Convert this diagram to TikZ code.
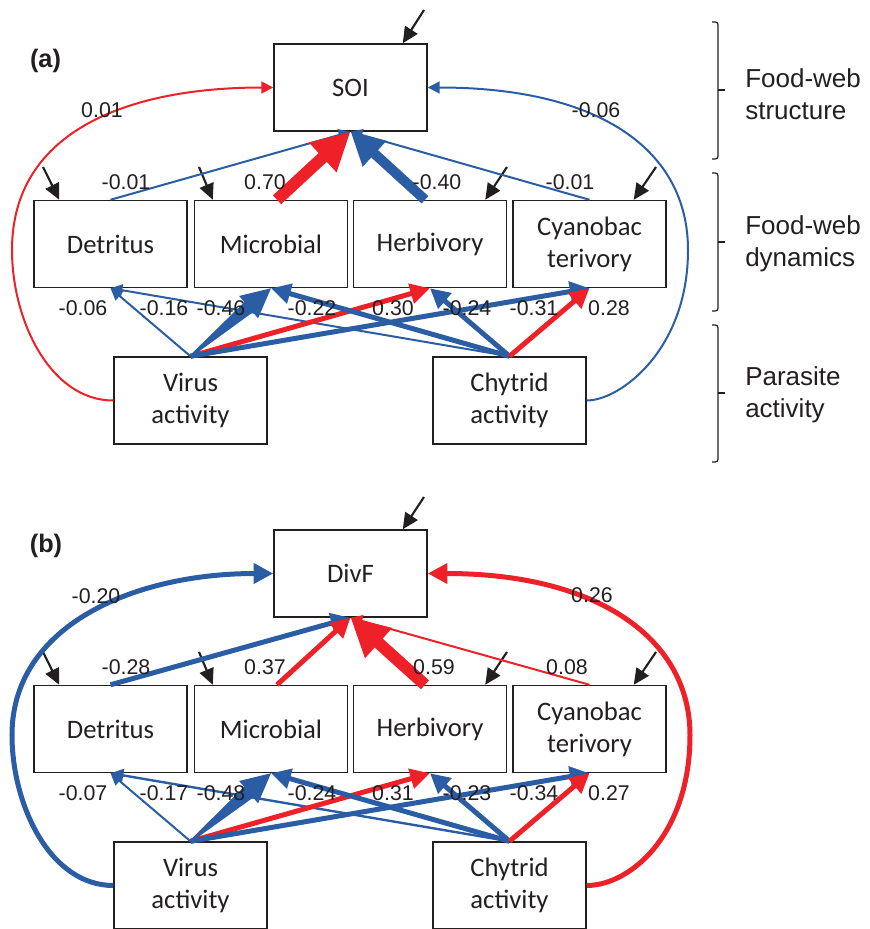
\documentclass[tikz,border=0pt]{standalone}
\usepackage{fontspec}
\setmainfont{Carlito}
\newfontfamily\arial{Liberation Sans}
\usetikzlibrary{arrows.meta,calc}
\definecolor{myred}{RGB}{237,33,39}
\definecolor{myblue}{RGB}{42,93,163}
\definecolor{ink}{RGB}{35,31,32}
\begin{document}
\begin{tikzpicture}[x=0.75pt,y=-0.75pt,
  box/.style={draw=ink, line width=1.1pt, fill=white, minimum width=114.75pt, minimum height=65.25pt,
    inner sep=0pt, font=\fontsize{20}{24}\selectfont, text=ink, align=center},
  coef/.style={font=\arial\fontsize{16}{18}\selectfont, text=ink, inner sep=0pt},
  grp/.style={font=\arial\fontsize{19.5}{24}\selectfont, text=ink, align=left, anchor=west, inner sep=0pt},
  plabel/.style={font=\arial\bfseries\fontsize{19}{22}\selectfont, text=ink, inner sep=0pt},
  lnk/.style={-{Triangle[length=5pt 2.6,width=5pt 2.6]}, line width=#1},
  err/.style={-{Triangle[length=12pt,width=11pt]}, line width=1.6pt, draw=ink},
  brk/.style={draw=ink, line width=0.9pt, rounded corners=2pt}]
\useasboundingbox (0,0) rectangle (869,929);

% ================= panel (a) =================
\node[plabel] (pa) at (45.5,61) {(a)};
\node[box] (soi) at (350.5,87.5) {SOI};
\node[box] (det) at (110.5,244) {Detritus};
\node[box] (mic) at (271,244) {Microbial};
\node[box] (her) at (430,244) {Herbivory};
\node[box] (cya) at (589.5,244) {Cyanobac\\terivory};
\node[box] (vir) at (190.5,400.5) {Virus\\activity};
\node[box] (chy) at (509.5,400.5) {Chytrid\\activity};

% error arrows
\coordinate (ea0) at (424,10);
\coordinate (ea1) at (43,167);
\coordinate (ea2) at (199,167);
\coordinate (ea3) at (507,167);
\coordinate (ea4) at (656,167);
\draw[err] (ea0) -- ($(soi.north east)+(-25,0)$);
\draw[err] (ea1) -- ($(det.north west)+(26,0)$);
\draw[err] (ea2) -- ($(mic.north west)+(19,0)$);
\draw[err] (ea3) -- ($(her.north east)+(-22,0)$);
\draw[err] (ea4) -- ($(cya.north east)+(-33,0)$);

% links to SOI
\draw[lnk=1.5pt, myblue] (det.north) -- (soi.south);
\draw[lnk=1.5pt, myblue] (cya.north) -- (soi.south);
\draw[lnk=7.5pt, myblue] ($(her.north)+(-5,0)$) -- (soi.south);
\draw[lnk=9pt, myred] ($(mic.north)+(6,0)$) -- (soi.south);
\draw[lnk=1.5pt, myred] (vir.west) .. controls (50,400.5) and (12,320) .. (12,250)
   .. controls (12,130) and (130,87.5) .. (soi.west);
\draw[lnk=1.5pt, myblue] (chy.east) .. controls (620,400.5) and (688,350) .. (688,250)
   .. controls (688,150) and (600,87.5) .. (soi.east);

% parasite links
\draw[lnk=1.5pt, myblue] (vir.north) -- (det.south);
\draw[lnk=1.5pt, myblue] (chy.north) -- (det.south);
\draw[lnk=3.75pt, myred] (vir.north) -- (her.south);
\draw[lnk=3.75pt, myblue] (chy.north) -- (mic.south);
\draw[lnk=3.75pt, myblue] (vir.north) -- (cya.south);
\draw[lnk=3.75pt, myblue] (chy.north) -- (her.south);
\draw[lnk=3.75pt, myred] (chy.north) -- (cya.south);
% tapered thick arrow virus -> microbial
\coordinate (hba) at ($(mic.south)!22pt!(vir.north)$);
\fill[myblue] ($(vir.north)!0.8pt!90:(mic.south)$) -- ($(hba)!5pt!90:(mic.south)$)
  -- ($(hba)!11pt!90:(mic.south)$) -- (mic.south) -- ($(hba)!11pt!-90:(mic.south)$)
  -- ($(hba)!5pt!-90:(mic.south)$) -- ($(vir.north)!0.8pt!-90:(mic.south)$) -- cycle;

% coefficients
\node[coef] (ca1) at (102,110) {0.01};
\node[coef] (ca2) at (596,110) {-0.06};
\node[coef] (ca3) at (126,182) {-0.01};
\node[coef] (ca4) at (265,182) {0.70};
\node[coef] (ca5) at (437,182) {-0.40};
\node[coef] (ca6) at (570,182) {-0.01};
\node[coef] (cb1) at (83,308) {-0.06};
\node[coef] (cb2) at (164,308) {-0.16};
\node[coef] (cb3) at (221,308) {-0.46};
\node[coef] (cb4) at (312,308) {-0.22};
\node[coef] (cb5) at (393,308) {0.30};
\node[coef] (cb6) at (467,308) {-0.24};
\node[coef] (cb7) at (534,308) {-0.31};
\node[coef] (cb8) at (609,308) {0.28};

% brackets and group labels
\draw[brk] (712,22) -- (718,22) -- (718,159) -- (712,159);
\draw[brk] (718,90) -- (725,90);
\draw[brk] (712,173) -- (718,173) -- (718,311) -- (712,311);
\draw[brk] (718,242) -- (725,242);
\draw[brk] (712,325) -- (718,325) -- (718,462) -- (712,462);
\draw[brk] (718,393) -- (725,393);
\node[grp] (g1) at (745,94) {Food-web\\structure};
\node[grp] (g2) at (745,244) {Food-web\\dynamics};
\node[grp] (g3) at (745,395) {Parasite\\activity};

% ================= panel (b) =================
\node[plabel] (pb) at (46,546) {(b)};
\node[box] (dvf) at (350.5,573.5) {DivF};
\node[box] (det2) at (110.5,729) {Detritus};
\node[box] (mic2) at (271,729) {Microbial};
\node[box] (her2) at (430,729) {Herbivory};
\node[box] (cya2) at (589.5,729) {Cyanobac\\terivory};
\node[box] (vir2) at (190.5,885.5) {Virus\\activity};
\node[box] (chy2) at (509.5,885.5) {Chytrid\\activity};

\coordinate (eb0) at (424,497);
\coordinate (eb1) at (43,652);
\coordinate (eb2) at (199,652);
\coordinate (eb3) at (507,652);
\coordinate (eb4) at (656,652);
\draw[err] (eb0) -- ($(dvf.north east)+(-25,0)$);
\draw[err] (eb1) -- ($(det2.north west)+(26,0)$);
\draw[err] (eb2) -- ($(mic2.north west)+(19,0)$);
\draw[err] (eb3) -- ($(her2.north east)+(-22,0)$);
\draw[err] (eb4) -- ($(cya2.north east)+(-33,0)$);

\draw[lnk=3.75pt, myblue] (det2.north) -- (dvf.south);
\draw[lnk=1.5pt, myred] (cya2.north) -- (dvf.south);
\draw[lnk=3.75pt, myred] ($(mic2.north)+(6,0)$) -- (dvf.south);
\draw[lnk=9pt, myred] ($(her2.north)+(-5,0)$) -- (dvf.south);
\draw[lnk=3.75pt, myblue] (vir2.west) .. controls (50,885.5) and (12,805) .. (12,735)
   .. controls (12,625) and (135,573.5) .. (dvf.west);
\draw[lnk=3.75pt, myred] (chy2.east) .. controls (630,885.5) and (690,835) .. (690,735)
   .. controls (690,640) and (600,573.5) .. (dvf.east);

\draw[lnk=1.5pt, myblue] (vir2.north) -- (det2.south);
\draw[lnk=1.8pt, myblue] (chy2.north) -- (det2.south);
\draw[lnk=3.75pt, myred] (vir2.north) -- (her2.south);
\draw[lnk=3.75pt, myblue] (chy2.north) -- (mic2.south);
\draw[lnk=3.75pt, myblue] (vir2.north) -- (cya2.south);
\draw[lnk=3.75pt, myblue] (chy2.north) -- (her2.south);
\draw[lnk=3.75pt, myred] (chy2.north) -- (cya2.south);
\coordinate (hbb) at ($(mic2.south)!22pt!(vir2.north)$);
\fill[myblue] ($(vir2.north)!0.8pt!90:(mic2.south)$) -- ($(hbb)!5.3pt!90:(mic2.south)$)
  -- ($(hbb)!11pt!90:(mic2.south)$) -- (mic2.south) -- ($(hbb)!11pt!-90:(mic2.south)$)
  -- ($(hbb)!5.3pt!-90:(mic2.south)$) -- ($(vir2.north)!0.8pt!-90:(mic2.south)$) -- cycle;

\node[coef] (cc1) at (96,596) {-0.20};
\node[coef] (cc2) at (592,595) {0.26};
\node[coef] (cc3) at (126,667) {-0.28};
\node[coef] (cc4) at (265,667) {0.37};
\node[coef] (cc5) at (434,667) {0.59};
\node[coef] (cc6) at (567,667) {0.08};
\node[coef] (cd1) at (83,793) {-0.07};
\node[coef] (cd2) at (164,793) {-0.17};
\node[coef] (cd3) at (221,793) {-0.48};
\node[coef] (cd4) at (312,793) {-0.24};
\node[coef] (cd5) at (393,793) {0.31};
\node[coef] (cd6) at (467,793) {-0.23};
\node[coef] (cd7) at (534,793) {-0.34};
\node[coef] (cd8) at (609,793) {0.27};
\end{tikzpicture}
\end{document}
